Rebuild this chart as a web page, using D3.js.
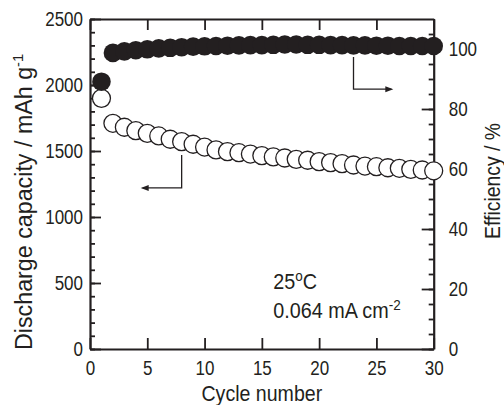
<!DOCTYPE html>
<html>
<head>
<meta charset="utf-8">
<script src="https://cdn.jsdelivr.net/npm/d3@7"></script>
<style>
  body { margin: 0; background: #fff; }
  text { font-family: "Liberation Sans", Arial, sans-serif; fill: #231f20; }
  .tick text { font-size: 21px; }
</style>
</head>
<body>
<div id="chart"></div>
<script>
// data
var cycles = [1, 2, 3, 4, 5, 6, 7, 8, 9, 10, 11, 12, 13, 14, 15,
              16, 17, 18, 19, 20, 21, 22, 23, 24, 25, 26, 27, 28, 29, 30];
var capacity = [1899, 1710, 1680, 1654, 1634, 1614, 1589, 1571, 1551, 1530,
                1508, 1495, 1487, 1477, 1465, 1455, 1447, 1437, 1430, 1419,
                1412, 1404, 1394, 1386, 1381, 1373, 1369, 1361, 1356, 1350];
var efficiency = [89.1, 98.7, 99.2, 99.6, 99.9, 100.2, 100.4, 100.6, 100.8, 100.9,
                  101.0, 101.1, 101.2, 101.3, 101.3, 101.4, 101.5, 101.5, 101.4, 101.4,
                  101.3, 101.3, 101.2, 101.2, 101.1, 101.1, 101.0, 101.0, 101.0, 101.0];
var xTicks = [0, 5, 10, 15, 20, 25, 30];
var capTicks = [0, 500, 1000, 1500, 2000, 2500];
var effTicks = [0, 20, 40, 60, 80, 100];

var svgWidth = 504;
var svgHeight = 405;
var margin = { top: 19, right: 70.3, bottom: 56, left: 90 };
var width = svgWidth - margin.left - margin.right;
var height = svgHeight - margin.top - margin.bottom;
var ink = "#231f20";

var svg = d3.select("#chart")
  .append("svg")
  .attr("width", svgWidth)
  .attr("height", svgHeight);

var g = svg.append("g")
  .attr("transform", `translate(${margin.left}, ${margin.top})`);

// the figure's lettering is a condensed sans, so squeeze the text sideways
function squeeze(sel, sx) {
  sel.each(function() {
    var t = d3.select(this);
    var tx = +t.attr("x") || 0;
    var ty = +t.attr("y") || 0;
    t.attr("x", 0).attr("y", 0)
      .attr("transform", `translate(${tx}, ${ty}) scale(${sx}, 1)`);
  });
}

var x = d3.scaleLinear().domain([0, 30]).range([0, width]);
var yCap = d3.scaleLinear().domain([0, 2500]).range([height, 0]);
var yEff = d3.scaleLinear().domain([0, 110]).range([height, 0]);

// minor ticks first (no labels)
g.append("g")
  .call(d3.axisLeft(yCap).tickValues(d3.range(0, 2501, 100)).tickSize(-5).tickFormat(""))
  .call(a => a.select(".domain").remove());
g.append("g")
  .attr("transform", `translate(${width}, 0)`)
  .call(d3.axisRight(yEff).tickValues(d3.range(0, 106, 5)).tickSize(-5).tickFormat(""))
  .call(a => a.select(".domain").remove());

// major axes
g.append("g")
  .call(d3.axisLeft(yCap).tickValues(capTicks).tickFormat(d3.format("d"))
    .tickSize(-11).tickPadding(7).tickSizeOuter(0));
g.append("g")
  .attr("transform", `translate(${width}, 0)`)
  .call(d3.axisRight(yEff).tickValues(effTicks).tickFormat(d3.format("d"))
    .tickSize(-12).tickPadding(15).tickSizeOuter(0));
g.append("g")
  .attr("transform", `translate(0, ${height})`)
  .call(d3.axisBottom(x).tickValues(xTicks).tickFormat(d3.format("d"))
    .tickSize(-11).tickPadding(11).tickSizeOuter(0));
g.append("g")
  .call(d3.axisTop(x).tickValues(xTicks).tickSize(-11).tickFormat("").tickSizeOuter(0));

g.selectAll(".domain").attr("stroke", ink).attr("stroke-width", 2.2);
g.selectAll(".tick line").attr("stroke", ink).attr("stroke-width", 1.8);
g.selectAll(".tick text").attr("fill", ink).call(squeeze, 0.81);

// discharge capacity, open circles
g.append("g").selectAll("circle")
  .data(cycles)
  .enter()
  .append("circle")
  .attr("cx", (d) => x(d))
  .attr("cy", (d, i) => yCap(capacity[i]))
  .attr("r", 9)
  .attr("fill", "#fff")
  .attr("stroke", ink)
  .attr("stroke-width", 1.3);

// efficiency, filled circles
g.append("g").selectAll("circle")
  .data(cycles)
  .enter()
  .append("circle")
  .attr("cx", (d) => x(d))
  .attr("cy", (d, i) => yEff(efficiency[i]))
  .attr("r", 9.3)
  .attr("fill", ink);

// pointer arrows
function arrow(pts, dir) {
  g.append("path")
    .attr("d", d3.line()(pts))
    .attr("fill", "none")
    .attr("stroke", ink)
    .attr("stroke-width", 1.3);
  var end = pts[pts.length - 1];
  var tip = [end[0] + dir * 2, end[1]];
  g.append("path")
    .attr("d", `M${tip[0]},${tip[1]} L${tip[0] - dir * 8},${tip[1] - 3} L${tip[0] - dir * 8},${tip[1] + 3} Z`)
    .attr("fill", ink);
}
arrow([[x(8.0), yCap(1470)], [x(8.0), yCap(1220)], [x(4.6), yCap(1220)]], -1);
arrow([[x(23.0), yEff(97.3)], [x(23.0), yEff(86.6)], [x(26.3), yEff(86.6)]], 1);

// axis titles
g.append("text")
  .attr("text-anchor", "middle")
  .attr("x", width / 2)
  .attr("y", height + 52)
  .style("font-size", "22px")
  .text("Cycle number")
  .call(squeeze, 0.89);

var yl = g.append("text")
  .attr("transform", `translate(${32 - margin.left}, ${202 - margin.top}) rotate(-90) scale(0.97, 1)`)
  .attr("text-anchor", "middle")
  .style("font-size", "24px");
yl.append("tspan").text("Discharge capacity / mAh g");
yl.append("tspan").attr("dy", -9).style("font-size", "15px").text("-1");

g.append("text")
  .attr("transform", `translate(${width + 66}, ${181 - margin.top}) rotate(-90) scale(0.88, 1)`)
  .attr("text-anchor", "middle")
  .style("font-size", "22px")
  .text("Efficiency / %");

// condition note
var note1 = g.append("text")
  .attr("x", x(16)).attr("y", 289 - margin.top)
  .style("font-size", "22px");
note1.append("tspan").text("25");
note1.append("tspan").attr("dy", -8).style("font-size", "15px").text("o");
note1.append("tspan").attr("dy", 8).text("C");
note1.call(squeeze, 0.9);

var note2 = g.append("text")
  .attr("x", x(16)).attr("y", 318 - margin.top)
  .style("font-size", "22px");
note2.append("tspan").text("0.064 mA cm");
note2.append("tspan").attr("dy", -8).style("font-size", "15px").text("-2");
note2.call(squeeze, 0.9);
</script>
</body>
</html>
